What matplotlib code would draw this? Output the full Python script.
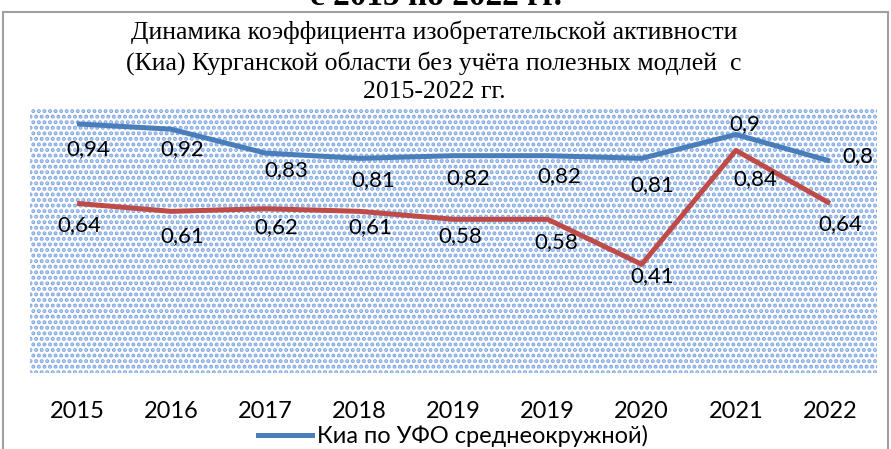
import matplotlib
matplotlib.use('Agg')
import matplotlib.pyplot as plt
from matplotlib.patches import Rectangle
from matplotlib.lines import Line2D

years = ['2015', '2016', '2017', '2018', '2019', '2019', '2020', '2021', '2022']
kia_ufo = [0.94, 0.92, 0.83, 0.81, 0.82, 0.82, 0.81, 0.9, 0.8]
kia_kurgan = [0.64, 0.61, 0.62, 0.61, 0.58, 0.58, 0.41, 0.84, 0.64]
legend_label = 'Киа по УФО среднеокружной)'
title = ('Динамика коэффициента изобретательской активности\n'
         '(Киа) Курганской области без учёта полезных модлей  с\n'
         '2015-2022 гг.')
cut_heading = 'с 2015 по 2022 гг.'

# label offsets in pixels (Excel placed them by hand-ish)
blue_off = [(11, -25), (11, -20), (21, -17), (14, -22), (15, -22), (12, -20), (11, -27), (9, 10), (28, 5)]
red_off = [(2, -22), (11, -25), (11, -18), (11, -16), (7, -17), (9, -23), (11, -12), (19, -29), (10, -21)]

blue = '#4a7ebb'
red = '#be4b48'
dots = '#80a8e2'

plt.rcParams['font.family'] = ['Lato', 'DejaVu Sans']
plt.rcParams['hatch.linewidth'] = 2.0

fig = plt.figure(figsize=(8.91, 4.49), dpi=100)
ax = fig.add_axes([30 / 891, 76 / 449, 847 / 891, 265 / 449])

# dotted pattern fill of the plot area
ax.add_patch(Rectangle((0, 0), 1, 1, transform=ax.transAxes, facecolor='white',
                       hatch='...', edgecolor=dots, lw=0, zorder=0))

x = list(range(len(years)))
ax.plot(x, kia_ufo, color=blue, lw=3.6, zorder=3, solid_capstyle='butt')
ax.plot(x, kia_kurgan, color=red, lw=3.6, zorder=3, solid_capstyle='butt')

for i, v in enumerate(kia_ufo):
    ax.annotate(f'{v:g}'.replace('.', ','), (i, v), xytext=blue_off[i], textcoords='offset pixels',
                ha='center', va='center', fontsize=16, zorder=4)
for i, v in enumerate(kia_kurgan):
    ax.annotate(f'{v:g}'.replace('.', ','), (i, v), xytext=red_off[i], textcoords='offset pixels',
                ha='center', va='center', fontsize=16, zorder=4)

ax.set_xlim(-0.5, len(years) - 0.5)
ax.set_ylim(0, 1)
ax.set_xticks(x)
ax.set_xticklabels(years, fontsize=17)
ax.tick_params(axis='x', length=0, pad=20)
ax.set_yticks([])
for s in ax.spines.values():
    s.set_visible(False)

fig.text(434 / 891, 1 - 62 / 449, title, ha='center', va='center', fontsize=18.5,
         family='Liberation Serif', linespacing=1.38)
fig.text(436 / 891, 1 - 5 / 449, cut_heading, ha='center', va='baseline', fontsize=24,
         family='Liberation Serif', fontweight='bold')

fig.patches.append(Rectangle((3 / 891, -0.1), 885 / 891, 1.1 - 12 / 449, transform=fig.transFigure,
                             fill=False, edgecolor='#a0a0a0', lw=1.5))

handle = Line2D([], [], color=blue, lw=3.6)
fig.legend(handles=[handle], labels=[legend_label], loc='center left',
           bbox_to_anchor=(258 / 891, 1 - 436 / 449), frameon=False, fontsize=17,
           handlelength=2.3, handletextpad=0.2, borderpad=0, borderaxespad=0)

fig.savefig('out.png', dpi=100)
